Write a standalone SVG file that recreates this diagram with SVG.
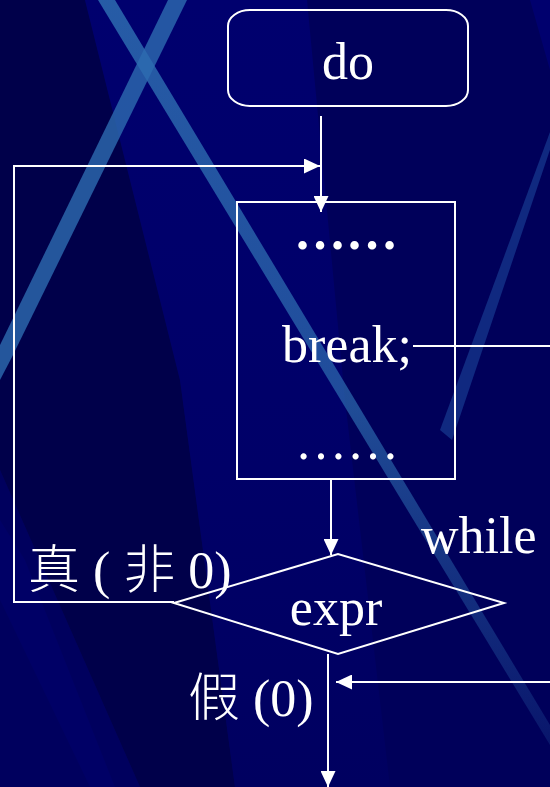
<svg xmlns="http://www.w3.org/2000/svg" width="550" height="787" viewBox="0 0 550 787">
<style>
.ln{stroke:#fff;stroke-width:2;fill:none}
.shape{stroke:#fff;stroke-width:2;fill:none}
.t{font-family:"Liberation Serif","Noto Sans CJK TC",serif;fill:#fff;font-size:52px}
.cjk{font-family:"Liberation Serif","Noto Sans CJK TC",serif;fill:#fff;font-size:52px;font-weight:300}
</style>
<defs>
<marker id="ah" viewBox="0 0 16 15" refX="16" refY="7.5" markerWidth="16" markerHeight="15" markerUnits="userSpaceOnUse" orient="auto">
<path d="M0,0 L16,7.5 L0,15 z" fill="#fff"/>
</marker>
<linearGradient id="sa" x1="0" y1="0" x2="0" y2="1">
<stop offset="0" stop-color="#2d6cb0" stop-opacity="0.85"/>
<stop offset="0.55" stop-color="#2d6cb0" stop-opacity="0.7"/>
<stop offset="1" stop-color="#2d6cb0" stop-opacity="0.2"/>
</linearGradient>
<linearGradient id="mid" x1="0" y1="0" x2="0" y2="1">
<stop offset="0" stop-color="#00006e"/>
<stop offset="0.6" stop-color="#000068"/>
<stop offset="1" stop-color="#000060"/>
</linearGradient>
</defs>
<g id="background">
<rect width="550" height="787" fill="#00005a"/>
<polygon points="0,0 85,0 180,380 235,787 140,787 0,470" fill="#00004a"/>
<polygon points="0,470 140,787 0,787" fill="#00005e"/>
<polygon points="0,520 25,560 115,787 90,787 0,600" fill="#000066"/>
<polygon points="85,0 307,0 345,400 390,787 235,787 180,380" fill="url(#mid)"/>
<polygon points="530,0 550,0 550,70" fill="#00006e"/>
<polygon points="98,0 115,0 553,730 550,745" fill="url(#sa)"/>
<polygon points="168,0 187,0 12,357 0,380 0,345" fill="#2d6cb0" fill-opacity="0.8"/>
<polygon points="550,132 556,132 452,440 440,430" fill="#1d4aa0" fill-opacity="0.55"/>
</g>
<g id="connectors">
<line class="ln" x1="321" y1="116" x2="321" y2="212" marker-end="url(#ah)"/>
<polyline class="ln" points="174,602 14,602 14,166 320,166" marker-end="url(#ah)"/>
<line class="ln" x1="331" y1="479" x2="331" y2="555" marker-end="url(#ah)"/>
<line class="ln" x1="328" y1="654" x2="328" y2="787" marker-end="url(#ah)"/>
<path class="ln" d="M413,346 H570 V682 H336" marker-end="url(#ah)"/>
</g>
<g id="node-do">
<rect class="shape" x="228" y="10" width="240" height="96" rx="22" ry="16"/>
<text class="t" x="348" y="79" text-anchor="middle">do</text>
</g>
<g id="node-body">
<rect class="shape" x="237" y="202" width="218" height="277"/>
<text class="t" x="346" y="249" text-anchor="middle" font-size="49" font-weight="bold">……</text>
<text class="t" x="282" y="362">break;</text>
<text class="t" x="347" y="459" text-anchor="middle" font-size="44">……</text>
</g>
<g id="node-expr">
<polygon class="shape" points="174,603 338,554 504,603 338,654"/>
<text class="t" x="336" y="625" text-anchor="middle">expr</text>
</g>
<g id="labels">
<text class="t" x="421" y="553">while</text>
<text class="cjk" x="28" y="588">真 ( 非 0)</text>
<text class="cjk" x="188" y="716">假 (0)</text>
</g>
</svg>
